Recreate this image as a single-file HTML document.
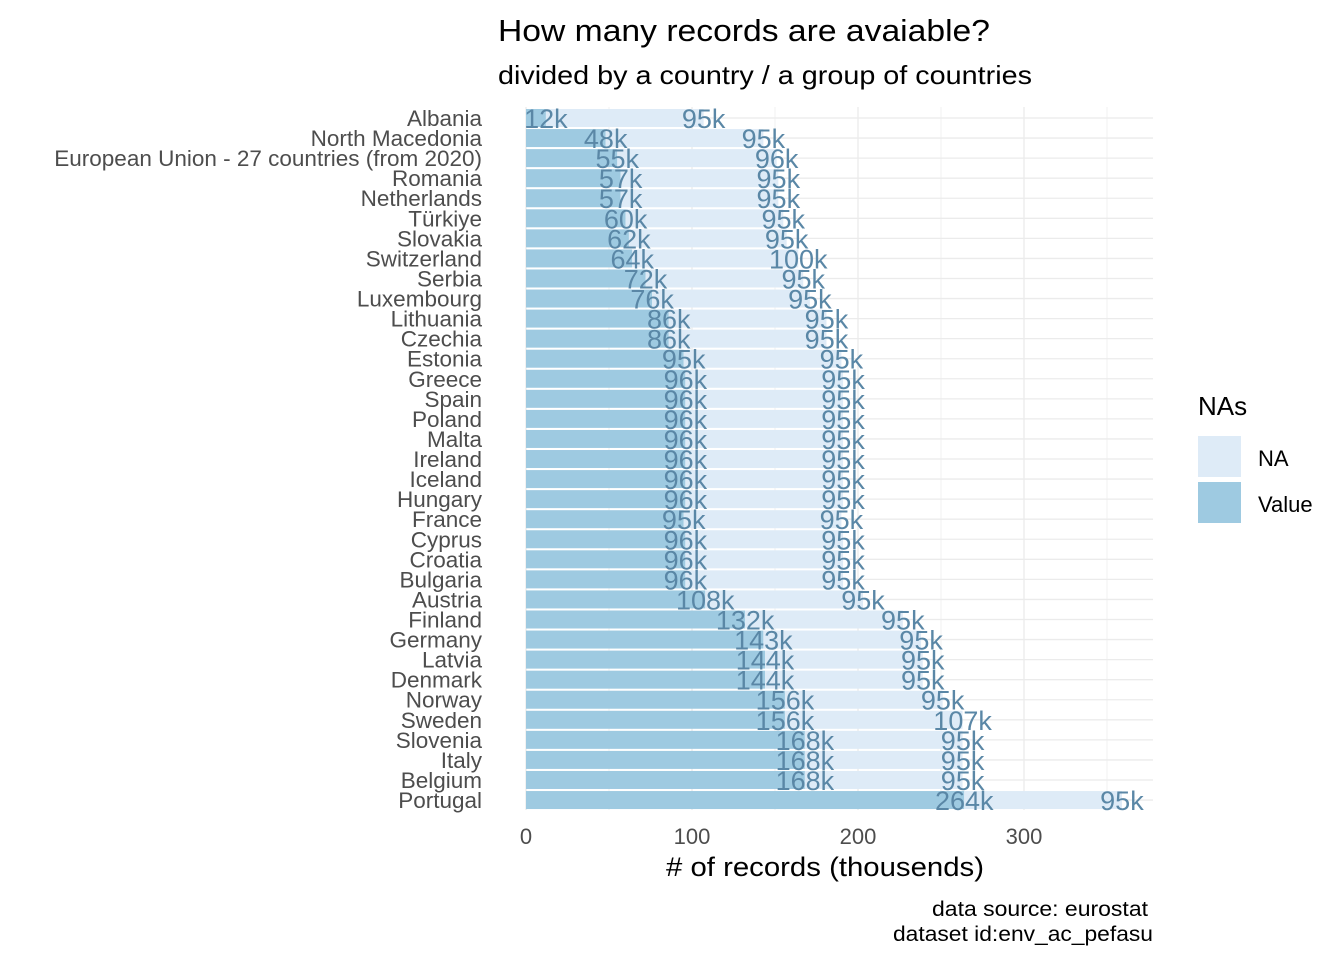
<!DOCTYPE html>
<html><head><meta charset="utf-8"><style>
body{margin:0;background:#fff;font-family:"Liberation Sans",sans-serif}
svg text{font-family:"Liberation Sans","Noto Sans CJK JP",sans-serif}
</style></head><body>
<svg id="c" width="1344" height="960">
<text x="498" y="41" font-size="31" textLength="492" lengthAdjust="spacingAndGlyphs" fill="#000">How many records are avaiable?</text>
<text x="498" y="84" font-size="26" textLength="534" lengthAdjust="spacingAndGlyphs" fill="#000">divided by a country / a group of countries</text>
<g id="grid"></g><g id="bars"></g><g id="labels"></g><g id="ylab"></g><g id="xlab"></g>
<text x="825" y="876" font-size="27" text-anchor="middle" textLength="318" lengthAdjust="spacingAndGlyphs" fill="#000"># of records (thousends)</text>
<text x="1148" y="916" font-size="21" text-anchor="end" textLength="216" lengthAdjust="spacingAndGlyphs" fill="#000">data source: eurostat</text>
<text x="1153" y="941" font-size="21" text-anchor="end" textLength="260" lengthAdjust="spacingAndGlyphs" fill="#000">dataset id:env_ac_pefasu</text>
<g>
<text x="1198" y="415" font-size="26">NAs</text>
<rect x="1198" y="436" width="43" height="41" fill="#deebf7"/>
<text x="1258" y="466" font-size="22">NA</text>
<rect x="1198" y="482" width="43" height="41" fill="#9ecae1"/>
<text x="1258" y="512" font-size="22">Value</text>
</g>
</svg>
<script>
const countries=["Albania","North Macedonia","European Union - 27 countries (from 2020)","Romania","Netherlands","Türkiye","Slovakia","Switzerland","Serbia","Luxembourg","Lithuania","Czechia","Estonia","Greece","Spain","Poland","Malta","Ireland","Iceland","Hungary","France","Cyprus","Croatia","Bulgaria","Austria","Finland","Germany","Latvia","Denmark","Norway","Sweden","Slovenia","Italy","Belgium","Portugal"];
const values=[12,48,55,57,57,60,62,64,72,76,86,86,95,96,96,96,96,96,96,96,95,96,96,96,108,132,143,144,144,156,156,168,168,168,264];
const nas=[95,95,96,95,95,95,95,100,95,95,95,95,95,95,95,95,95,95,95,95,95,95,95,95,95,95,95,95,95,95,107,95,95,95,95];
const xTicks=[0,100,200,300];
const NS="http://www.w3.org/2000/svg";
const x0=526,k=1.66,y0=118,step=20.06,bh=18,px=526,pw=1153;
const X=v=>x0+v*k, Y=i=>y0+i*step;
function mk(t,a,p){const e=document.createElementNS(NS,t);for(const n in a)e.setAttribute(n,a[n]);p.appendChild(e);return e;}
const g=document.getElementById('grid');
for(let v=0;v<=375;v+=50){if(X(v)>pw)break;const l=mk('line',{x1:X(v),x2:X(v),y1:107,y2:810,stroke:'#ebebeb','stroke-width':v%100==0?1.3:0.7},g);

}
countries.forEach((c,i)=>{const l=mk('line',{x1:px,x2:pw,y1:Y(i),y2:Y(i),stroke:'#ebebeb','stroke-width':1.3},g);

});
const b=document.getElementById('bars'),lb=document.getElementById('labels'),yl=document.getElementById('ylab'),xl=document.getElementById('xlab');
countries.forEach((c,i)=>{
const r1=mk('rect',{x:X(0),y:Y(i)-bh/2,width:values[i]*k,height:bh,fill:'#9ecae1'},b);


const r2=mk('rect',{x:X(values[i]),y:Y(i)-bh/2,width:nas[i]*k,height:bh,fill:'#deebf7'},b);


const t1=mk('text',{x:X(values[i]),y:Y(i)+10,'font-size':27,'text-anchor':'middle',fill:'#5a87a6'},lb);t1.textContent=values[i]+'k';


const t2=mk('text',{x:X(values[i]+nas[i]),y:Y(i)+10,'font-size':27,'text-anchor':'middle',fill:'#5a87a6'},lb);t2.textContent=nas[i]+'k';


const t3=mk('text',{x:482,y:Y(i)+8,'font-size':22.5,'text-anchor':'end',fill:'#4d4d4d'},yl);t3.textContent=c;


});
xTicks.forEach(v=>{const t=mk('text',{x:X(v),y:844,'font-size':22,'text-anchor':'middle',fill:'#4d4d4d'},xl);t.textContent=v;

});
</script>
</body></html>
